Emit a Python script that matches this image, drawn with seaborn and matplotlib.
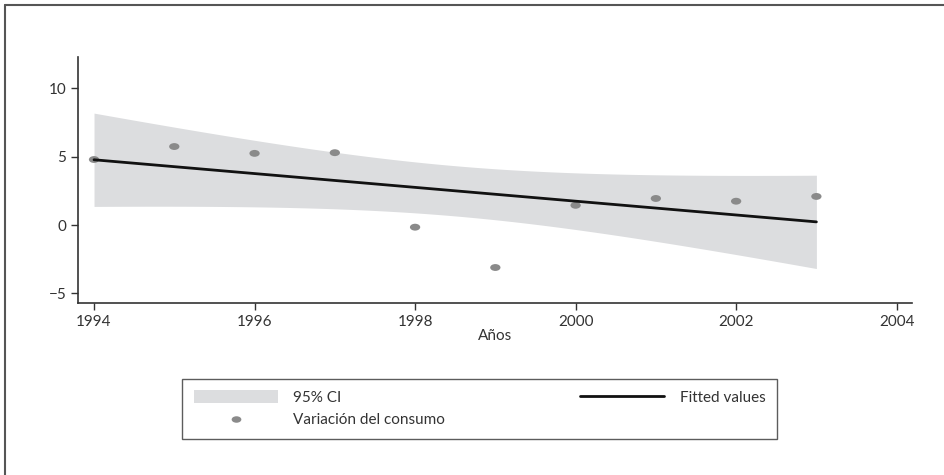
import numpy as np
import pandas as pd
import matplotlib.pyplot as plt
from matplotlib.patches import Patch
from matplotlib.lines import Line2D
from matplotlib.path import Path
import seaborn as sns

# --- Data ---
years = [1994, 1995, 1996, 1997, 1998, 1999, 2000, 2001, 2002, 2003]
consumo = [4.8, 5.75, 5.25, 5.3, -0.15, -3.1, 1.45, 1.95, 1.75, 2.1]
df = pd.DataFrame({'anio': years, 'consumo': consumo})

# --- Linear fit with 95% CI (analytic) ---
x = df['anio'].to_numpy(dtype=float)
y = df['consumo'].to_numpy(dtype=float)
n = len(x)
slope, intercept = np.polyfit(x, y, 1)
resid = y - (intercept + slope * x)
s = np.sqrt((resid ** 2).sum() / (n - 2))
t_crit = 2.306  # t(0.975, 8)
xg = np.linspace(x.min(), x.max(), 200)
yg = intercept + slope * xg
se = s * np.sqrt(1 / n + (xg - x.mean()) ** 2 / ((x - x.mean()) ** 2).sum())
fit = pd.DataFrame({'anio': xg, 'fit': yg, 'lo': yg - t_crit * se, 'hi': yg + t_crit * se})

# flattened dot marker (ellipse)
circ = Path.unit_circle()
ellipse = Path(circ.vertices * [1.5, 1.0], circ.codes)

# --- Plot ---
sns.set_style('white')
plt.rcParams['font.family'] = ['Lato', 'DejaVu Sans']

fig = plt.figure(figsize=(9.44, 4.75), dpi=100)
ax = fig.add_axes([0.0826, 0.362, 0.8834, 0.518])

band_col = '#dcdddf'
dot_col = '#8a8a8a'
ax.fill_between(fit['anio'], fit['lo'], fit['hi'], color=band_col, lw=0, zorder=1)
sns.lineplot(data=fit, x='anio', y='fit', color='#111111', lw=2, ax=ax, zorder=3)
sns.scatterplot(data=df, x='anio', y='consumo', color=dot_col, s=55, marker=ellipse,
                edgecolor='none', ax=ax, zorder=2)

ax.set_xlim(1993.8, 2004.19)
ax.set_ylim(-5.7, 12.3)
ax.set_xticks(range(1994, 2005, 2))
ax.set_yticks([-5, 0, 5, 10])
ax.set_yticklabels(['\u22125', '0', '5', '10'])
ax.set_xlabel('Años', fontsize=11, color='#333333', labelpad=0)
ax.set_ylabel('')
sns.despine(ax=ax)
for sp in ['left', 'bottom']:
    ax.spines[sp].set_color('#333333')
    ax.spines[sp].set_linewidth(1.2)
ax.tick_params(direction='out', length=5, width=1, colors='#333333',
               labelsize=11, left=True, bottom=True)

# --- Legend ---
handles = [
    Patch(facecolor=band_col, edgecolor='none'),
    Line2D([], [], marker=ellipse, ls='none', color=dot_col, markersize=7, markeredgecolor='none'),
    Line2D([], [], color='#111111', lw=2),
]
labels = ['95% CI', 'Variación del consumo', 'Fitted values']
leg = fig.legend(handles, labels, ncol=2, loc='upper left',
                 bbox_to_anchor=(0.193, 0.2021, 0.63, 0.0), mode='expand',
                 frameon=True, fancybox=False, fontsize=11, handlelength=5.5,
                 handleheight=0.9, handletextpad=1.0, borderpad=0.75,
                 labelspacing=0.5, borderaxespad=0)
leg.get_frame().set_edgecolor('#333333')
leg.get_frame().set_linewidth(1)
for t in leg.get_texts():
    t.set_color('#333333')

# outer frame (top and left edges)
fig.add_artist(Line2D([0.0055, 1.0], [0.989, 0.989], color='#555555', lw=1.5, transform=fig.transFigure))
fig.add_artist(Line2D([0.0055, 0.0055], [0.0, 0.989], color='#555555', lw=1.5, transform=fig.transFigure))

fig.savefig('out.png', dpi=100)
